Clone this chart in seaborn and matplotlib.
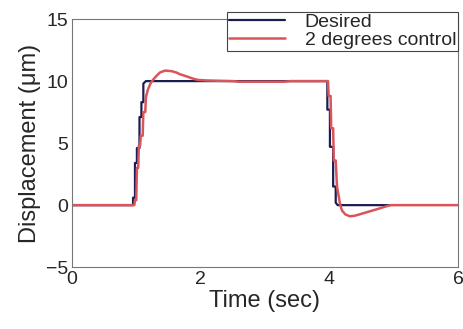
import matplotlib
matplotlib.use("Agg")
import matplotlib.pyplot as plt
import seaborn as sns
import pandas as pd

# Reference trajectory (staircase command)
desired_t = [0.0, 0.95, 0.95, 0.98, 0.98, 1.01, 1.01, 1.05, 1.05, 1.08, 1.08, 1.11, 1.11, 1.15,
             3.97, 3.97, 4.01, 4.01, 4.06, 4.06, 4.10, 4.10, 4.13, 4.95]
desired_y = [0.0, 0.0, 0.6, 0.6, 3.4, 3.4, 4.6, 4.6, 7.1, 7.1, 8.3, 8.3, 9.8, 10.0,
             10.0, 7.7, 7.7, 4.7, 4.7, 1.5, 1.5, 0.2, 0.0, 0.0]

# Measured response with 2-DOF controller
control_t = [0.0, 0.97, 0.98, 1.00, 1.01, 1.03, 1.04, 1.06, 1.07, 1.10, 1.11, 1.14, 1.15,
             1.18, 1.22, 1.26, 1.31, 1.37, 1.45, 1.55, 1.62, 1.68, 1.74, 1.80, 1.88, 1.95,
             2.10, 2.50, 2.60, 3.30, 3.40, 3.98,
             3.99, 4.02, 4.03, 4.06, 4.07, 4.10, 4.12, 4.15, 4.17, 4.20, 4.25, 4.32, 4.40,
             4.50, 4.63, 4.76, 4.87, 4.95, 6.0]
control_y = [0.0, 0.0, 0.4, 0.4, 3.0, 3.0, 4.8, 4.8, 5.6, 5.6, 7.5, 7.5, 8.7,
             9.3, 9.8, 10.1, 10.4, 10.7, 10.85, 10.8, 10.7, 10.55, 10.45, 10.35, 10.2, 10.1,
             10.05, 10.0, 9.95, 9.95, 10.0, 10.0,
             8.8, 8.8, 6.2, 6.2, 3.6, 3.6, 1.5, 0.6, 0.0, -0.45, -0.75, -0.9, -0.85,
             -0.7, -0.5, -0.3, -0.12, 0.0, 0.0]

x_ticks = [0, 2, 4, 6]
y_ticks = [-5, 0, 5, 10, 15]

sns.set_style("white")
plt.rcParams["font.family"] = ["Liberation Sans", "DejaVu Sans"]

fig = plt.figure(figsize=(4.64, 3.29), dpi=100)
ax = fig.add_axes([0.155, 0.188, 0.832, 0.754])

df_des = pd.DataFrame({"t": desired_t, "y": desired_y})
df_ctl = pd.DataFrame({"t": control_t, "y": control_y})

sns.lineplot(data=df_des, x="t", y="y", ax=ax, color="#1b1d52", linewidth=1.6,
             estimator=None, sort=False, label="Desired")
sns.lineplot(data=df_ctl, x="t", y="y", ax=ax, color="#d9555a", linewidth=1.8,
             estimator=None, sort=False, label="2 degrees control")

ax.set_xlim(0, 6)
ax.set_ylim(-5, 15)
ax.set_xticks(x_ticks)
ax.set_yticks(y_ticks)
ax.set_xticklabels([str(v) for v in x_ticks])
ax.set_yticklabels([str(v).replace("-", "\u2212") for v in y_ticks])
ax.tick_params(direction="in", length=3, labelsize=14, color="#666666", pad=3)

for s in ax.spines.values():
    s.set_color("#777777")
    s.set_linewidth(0.8)

ax.set_xlabel("Time (sec)", fontsize=17, labelpad=1)
ax.set_ylabel("Displacement (\u03bcm)", fontsize=17, labelpad=3)

leg = ax.legend(loc="upper right", bbox_to_anchor=(1.0, 1.03), fontsize=14,
                frameon=True, fancybox=False, edgecolor="#444444", framealpha=1,
                borderpad=0.1, labelspacing=0.0, handlelength=2.9,
                handletextpad=1.0, borderaxespad=0.0)
leg.get_frame().set_linewidth(0.8)

fig.savefig("out.png", dpi=100)
